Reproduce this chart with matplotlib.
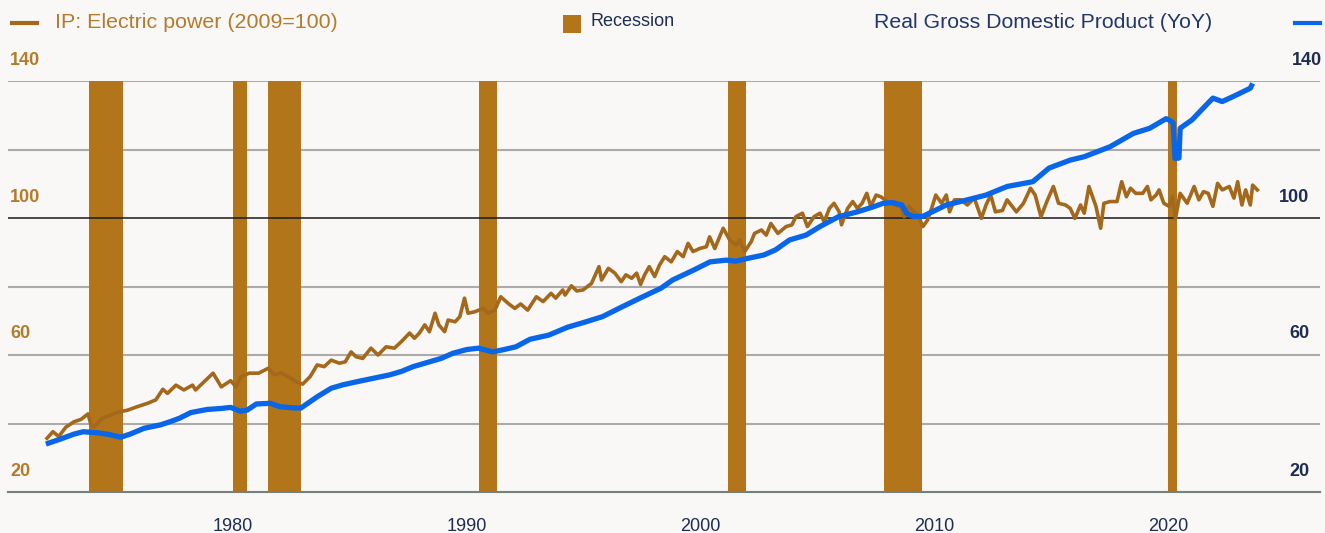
import matplotlib
matplotlib.use("Agg")
import matplotlib.pyplot as plt
from matplotlib.transforms import offset_copy

plt.rcParams['font.family'] = ['Liberation Sans', 'DejaVu Sans']

# --- Industrial production: electric power (2009=100) ---
ip_years = [
    1972.05, 1972.3, 1972.55, 1972.85, 1973.2, 1973.5, 1973.8, 1973.93, 1974.07, 1974.4,
    1974.78, 1975.13, 1975.5, 1975.9, 1976.35, 1976.7, 1977.0, 1977.2, 1977.56, 1977.9,
    1978.27, 1978.4, 1978.77, 1979.15, 1979.5, 1979.9, 1980.13, 1980.34, 1980.7, 1981.1,
    1981.5, 1981.77, 1982.06, 1982.34, 1982.7, 1982.98, 1983.3, 1983.6, 1983.9, 1984.2,
    1984.55, 1984.8, 1985.05, 1985.26, 1985.55, 1985.9, 1986.2, 1986.55, 1986.9, 1987.2,
    1987.55, 1987.76, 1987.97, 1988.2, 1988.4, 1988.64, 1988.8, 1989.05, 1989.2, 1989.5,
    1989.7, 1989.9, 1990.05, 1990.33, 1990.7, 1990.9, 1991.2, 1991.45, 1991.76, 1992.05,
    1992.3, 1992.6, 1992.97, 1993.26, 1993.6, 1993.8, 1994.1, 1994.2, 1994.47, 1994.7,
    1994.97, 1995.33, 1995.65, 1995.76, 1996.05, 1996.33, 1996.6, 1996.8, 1997.05, 1997.26,
    1997.43, 1997.6, 1997.8, 1998.03, 1998.24, 1998.46, 1998.74, 1999.0, 1999.25, 1999.46,
    1999.67, 1999.96, 2000.24, 2000.38, 2000.6, 2000.96, 2001.24, 2001.52, 2001.66, 2001.88,
    2002.16, 2002.3, 2002.6, 2002.8, 2003.0, 2003.3, 2003.65, 2003.9, 2004.07, 2004.35,
    2004.56, 2004.85, 2005.1, 2005.28, 2005.5, 2005.7, 2005.92, 2006.02, 2006.28, 2006.5,
    2006.7, 2006.9, 2007.1, 2007.27, 2007.5, 2007.7, 2007.99, 2008.27, 2008.56, 2008.7,
    2008.9, 2009.13, 2009.35, 2009.5, 2009.7, 2009.9, 2010.05, 2010.3, 2010.5, 2010.64,
    2010.85, 2011.13, 2011.4, 2011.7, 2012.0, 2012.2, 2012.4, 2012.6, 2012.9, 2013.1,
    2013.5, 2013.8, 2014.1, 2014.3, 2014.55, 2014.8, 2015.08, 2015.3, 2015.6, 2015.8,
    2016.0, 2016.24, 2016.4, 2016.6, 2016.9, 2017.1, 2017.24, 2017.5, 2017.8, 2018.0,
    2018.2, 2018.38, 2018.6, 2018.9, 2019.1, 2019.25, 2019.47, 2019.6, 2019.8, 2020.03,
    2020.17, 2020.3, 2020.5, 2020.8, 2021.1, 2021.3, 2021.5, 2021.7, 2021.9, 2022.1,
    2022.3, 2022.6, 2022.8, 2022.96, 2023.14, 2023.3, 2023.5, 2023.6, 2023.8,
]
ip_values = [
    35.7, 37.6, 36.2, 38.9, 40.5, 41.2, 42.8, 39.6, 39.1, 41.5,
    42.5, 43.4, 43.9, 44.9, 45.9, 46.9, 50.0, 48.8, 51.2, 49.8,
    51.2, 49.8, 52.2, 54.7, 50.7, 52.5, 50.7, 53.7, 54.7, 54.7,
    56.1, 54.2, 54.8, 53.7, 52.2, 51.5, 53.7, 57.1, 56.6, 58.5,
    57.6, 58.0, 60.9, 59.5, 59.0, 62.0, 60.0, 62.4, 62.0, 63.9,
    66.4, 64.9, 66.4, 68.8, 66.8, 72.2, 68.8, 66.8, 70.2, 69.7,
    71.2, 76.6, 72.2, 72.6, 73.6, 72.2, 73.1, 77.0, 75.1, 73.6,
    74.9, 73.1, 77.0, 75.6, 78.0, 76.6, 79.0, 77.5, 80.2, 78.7,
    79.0, 80.9, 85.8, 81.9, 85.3, 83.9, 81.4, 83.4, 82.4, 83.9,
    80.6, 83.4, 85.8, 82.9, 86.3, 88.7, 87.2, 90.2, 88.7, 92.6,
    90.2, 91.1, 91.6, 94.5, 91.1, 97.0, 93.6, 92.1, 93.6, 90.2,
    93.1, 95.5, 96.5, 95.0, 98.4, 95.5, 97.5, 98.0, 100.4, 101.4,
    97.5, 100.4, 101.4, 98.9, 102.8, 104.3, 101.8, 98.0, 102.8, 104.8,
    102.8, 104.3, 107.2, 103.4, 106.7, 106.2, 104.8, 103.8, 103.4, 100.4,
    103.4, 101.8, 99.9, 97.5, 99.4, 103.4, 106.7, 104.3, 106.7, 101.8,
    105.3, 105.3, 103.8, 105.8, 99.9, 103.8, 106.7, 101.8, 102.2, 105.3,
    101.8, 104.3, 108.7, 106.7, 100.4, 104.8, 109.2, 104.3, 103.8, 102.8,
    99.9, 103.8, 101.4, 109.2, 103.4, 97.0, 104.3, 104.8, 104.8, 110.6,
    106.2, 108.7, 107.2, 107.2, 109.2, 105.3, 106.7, 108.2, 104.3, 103.4,
    106.2, 99.9, 107.2, 104.3, 109.2, 105.3, 107.7, 107.2, 103.4, 110.1,
    108.2, 109.2, 105.8, 110.6, 103.8, 108.2, 103.8, 109.6, 108.2,
]

# --- Real gross domestic product index ---
gdp_years = [
    1972.0, 1972.6, 1973.2, 1973.6, 1974.2, 1974.7, 1975.2, 1975.6, 1976.2, 1976.9,
    1977.3, 1977.7, 1978.2, 1978.9, 1979.5, 1979.9, 1980.3, 1980.6, 1981.0, 1981.6,
    1982.0, 1982.5, 1982.9, 1983.6, 1984.2, 1984.7, 1985.3, 1986.0, 1986.7, 1987.2,
    1987.7, 1988.3, 1988.9, 1989.4, 1990.0, 1990.5, 1991.1, 1991.6, 1992.1, 1992.7,
    1993.5, 1994.3, 1995.0, 1995.8, 1996.5, 1997.4, 1998.3, 1998.8, 1999.7, 2000.4,
    2001.1, 2001.5, 2002.0, 2002.7, 2003.2, 2003.8, 2004.5, 2005.1, 2005.9, 2006.7,
    2007.4, 2007.8, 2008.2, 2008.6, 2008.8, 2009.1, 2009.5, 2009.9, 2010.5, 2011.4,
    2012.2, 2013.1, 2014.2, 2014.9, 2015.8, 2016.4, 2017.5, 2018.5, 2019.2, 2019.9,
    2020.05, 2020.2, 2020.28, 2020.45, 2020.5, 2021.0, 2021.7, 2021.9, 2022.3, 2022.9,
    2023.5, 2023.6,
]
gdp_values = [
    34.0, 35.4, 36.9, 37.6, 37.3, 36.8, 36.0, 36.9, 38.6, 39.6,
    40.5, 41.5, 43.2, 44.1, 44.4, 44.7, 43.6, 43.9, 45.7, 45.9,
    44.9, 44.6, 44.5, 47.8, 50.3, 51.3, 52.2, 53.2, 54.2, 55.2,
    56.6, 57.8, 59.0, 60.5, 61.6, 62.0, 60.9, 61.6, 62.4, 64.6,
    65.8, 68.1, 69.5, 71.2, 73.6, 76.6, 79.5, 81.9, 84.8, 87.2,
    87.7, 87.4, 88.2, 89.2, 90.7, 93.6, 95.0, 97.5, 100.4, 101.8,
    103.3, 104.3, 104.5, 103.8, 101.4, 100.4, 100.5, 101.8, 103.8, 105.3,
    106.7, 109.2, 110.6, 114.6, 116.9, 117.9, 120.8, 124.7, 126.2, 129.0,
    128.5, 127.8, 117.4, 117.5, 126.2, 128.6, 133.6, 135.0, 134.0, 135.9,
    137.9, 139.3,
]

# --- NBER recessions (start, end) ---
recession_start = [1973.83, 1980.0, 1981.5, 1990.5, 2001.17, 2007.83, 2020.0]
recession_end = [1975.3, 1980.6, 1982.92, 1991.27, 2001.92, 2009.45, 2020.38]

# --- axis labels ---
y_label_values = [140, 100, 60, 20]
x_tick_years = [1980, 1990, 2000, 2010, 2020]

BROWN_LINE = '#A3681C'
BROWN_BAR = '#B3751A'
BROWN_TEXT = '#B47B2A'
BLUE_LINE = '#0A66E8'
NAVY = '#1E2D52'
BG = '#F9F8F7'

W, H = 1325, 533
fig = plt.figure(figsize=(W / 100, H / 100), dpi=100, facecolor=BG)
ax = fig.add_axes([8 / W, (H - 492) / H, 1312 / W, 411 / H])
ax.set_facecolor(BG)
ax.set_xlim(1970.38, 2026.48)
ax.set_ylim(20, 140)

# horizontal grid
for g in [40, 60, 80, 120, 140]:
    ax.axhline(g, color='#ABABAB', lw=1.5, zorder=1)
ax.axhline(100, color='#1A1A1A', lw=1.1, zorder=2.5)

# recession shading
for s, e in zip(recession_start, recession_end):
    ax.axvspan(s, e, ymin=0, ymax=1, color=BROWN_BAR, lw=0, zorder=2)

ax.plot(ip_years, ip_values, color=BROWN_LINE, lw=2.6, zorder=3,
        solid_joinstyle='round')
ax.plot(gdp_years, gdp_values, color=BLUE_LINE, lw=3.8, zorder=4,
        solid_joinstyle='round', solid_capstyle='butt')

for side in ['left', 'right', 'top']:
    ax.spines[side].set_visible(False)
ax.spines['bottom'].set_color('#74817C')
ax.spines['bottom'].set_linewidth(1.5)
ax.spines['bottom'].set_zorder(5)

ax.set_yticks([])
ax.set_xticks(x_tick_years)
ax.set_xticklabels([str(y) for y in x_tick_years])
ax.tick_params(axis='x', length=0, pad=19, labelsize=13, labelcolor=NAVY)

# value labels above grid lines on both sides
ytrans = offset_copy(ax.get_yaxis_transform(), fig=fig, y=21, units='dots')
right_edge_px = {140: 1322, 100: 1309, 60: 1310, 20: 1310}
for v in y_label_values:
    ax.text(2 / 1312, v, str(v), transform=ytrans, ha='left', va='center',
            fontsize=13, fontweight='bold', color=BROWN_TEXT)
    ax.text((right_edge_px[v] - 8) / 1312, v, str(v), transform=ytrans,
            ha='right', va='center', fontsize=13, fontweight='bold', color=NAVY)

# legend row
fig.add_artist(plt.Line2D([12 / W, 37 / W], [1 - 23 / H, 1 - 23 / H],
                          color=BROWN_LINE, lw=3, transform=fig.transFigure))
fig.text(55 / W, 1 - 22 / H, 'IP: Electric power (2009=100)', ha='left',
         va='center', fontsize=15.4, color=BROWN_TEXT)
fig.add_artist(plt.Rectangle((563 / W, 1 - 33 / H), 18 / W, 18 / H,
                             color=BROWN_BAR, transform=fig.transFigure, lw=0))
fig.text(590 / W, 1 - 21 / H, 'Recession', ha='left', va='center',
         fontsize=13, color=NAVY)
fig.text(1212 / W, 1 - 22 / H, 'Real Gross Domestic Product (YoY)', ha='right',
         va='center', fontsize=15.3, color='#22386A')
fig.add_artist(plt.Line2D([1295 / W, 1320 / W], [1 - 23 / H, 1 - 23 / H],
                          color=BLUE_LINE, lw=3, transform=fig.transFigure))

fig.savefig('out.png', dpi=100, facecolor=BG)
